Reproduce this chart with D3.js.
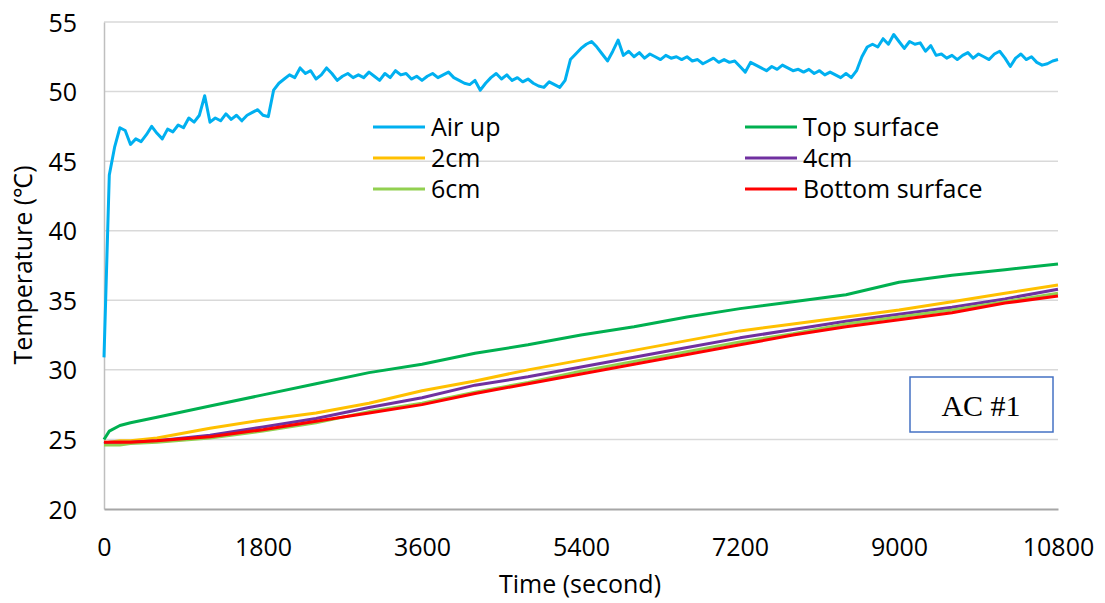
<!DOCTYPE html>
<html>
<head>
<meta charset="utf-8">
<script src="https://cdn.jsdelivr.net/npm/d3@7"></script>
<style>
  html, body { margin: 0; padding: 0; background: #fff; }
  svg { display: block; }
  text { font-family: "Open Sans", "Liberation Sans", sans-serif; fill: #000; }
  text.run-label { font-family: "Liberation Serif", "Times New Roman", serif; }
</style>
</head>
<body>
<svg id="chart" width="1105" height="603"></svg>
<script>
// Air temperature above the slab, logged every 60 s (°C)
const airStep = 60;
const airUp = [
  30.9, 44.0, 46.0, 47.4, 47.2, 46.2, 46.6, 46.4, 46.9, 47.5,
  47.0, 46.6, 47.3, 47.1, 47.6, 47.4, 48.1, 47.8, 48.3, 49.7,
  47.8, 48.1, 47.9, 48.4, 48.0, 48.3, 47.9, 48.3, 48.5, 48.7,
  48.3, 48.2, 50.1, 50.6, 50.9, 51.2, 51.0, 51.7, 51.3, 51.5,
  50.9, 51.2, 51.7, 51.3, 50.8, 51.1, 51.3, 51.0, 51.2, 51.0,
  51.4, 51.1, 50.8, 51.3, 51.0, 51.5, 51.2, 51.3, 50.9, 51.1,
  50.8, 51.1, 51.3, 51.0, 51.2, 51.4, 51.0, 50.8, 50.6, 50.5,
  50.8, 50.1, 50.6, 51.0, 51.3, 50.9, 51.2, 50.8, 51.0, 50.7,
  50.9, 50.6, 50.4, 50.3, 50.7, 50.5, 50.3, 50.8, 52.3, 52.7,
  53.1, 53.4, 53.6, 53.2, 52.7, 52.2, 52.9, 53.7, 52.6, 52.9,
  52.5, 52.8, 52.4, 52.7, 52.5, 52.3, 52.6, 52.4, 52.5, 52.3,
  52.5, 52.2, 52.3, 52.0, 52.2, 52.4, 52.1, 52.3, 52.1, 52.2,
  51.8, 51.4, 52.1, 51.9, 51.7, 51.5, 51.8, 51.6, 51.9, 51.7,
  51.5, 51.6, 51.4, 51.6, 51.3, 51.5, 51.2, 51.4, 51.2, 51.0,
  51.3, 51.0, 51.5, 52.5, 53.2, 53.4, 53.2, 53.8, 53.4, 54.1,
  53.6, 53.1, 53.6, 53.4, 53.5, 52.9, 53.3, 52.6, 52.7, 52.4,
  52.6, 52.3, 52.6, 52.8, 52.4, 52.7, 52.5, 52.3, 52.7, 52.9,
  52.4, 51.8, 52.4, 52.7, 52.3, 52.5, 52.1, 51.9, 52.0, 52.2,
  52.3
];

// Sampling times for the slab thermocouples (s)
const sensorTime = [0, 60, 180, 300, 600, 1200, 1800, 2400, 3000, 3600, 4200,
  4800, 5400, 6000, 6600, 7200, 7800, 8400, 9000, 9600, 10200, 10800];

const topSurface = [25.0, 25.6, 26.0, 26.2, 26.6, 27.4, 28.2, 29.0, 29.8, 30.4, 31.2,
  31.8, 32.5, 33.1, 33.8, 34.4, 34.9, 35.4, 36.3, 36.8, 37.2, 37.6];
const cm2 = [24.8, 24.8, 24.9, 24.9, 25.1, 25.8, 26.4, 26.9, 27.6, 28.5, 29.2,
  30.0, 30.7, 31.4, 32.1, 32.8, 33.3, 33.8, 34.3, 34.9, 35.5, 36.1];
const cm4 = [24.7, 24.8, 24.8, 24.8, 24.9, 25.3, 25.9, 26.5, 27.3, 28.0, 28.9,
  29.5, 30.2, 30.9, 31.6, 32.3, 32.9, 33.5, 34.0, 34.5, 35.1, 35.8];
const cm6 = [24.6, 24.6, 24.6, 24.7, 24.8, 25.1, 25.6, 26.2, 27.0, 27.6, 28.4,
  29.1, 29.9, 30.6, 31.3, 32.0, 32.6, 33.3, 33.8, 34.3, 34.9, 35.5];
const bottomSurface = [24.8, 24.8, 24.8, 24.8, 24.9, 25.2, 25.7, 26.3, 26.9, 27.5, 28.3,
  29.0, 29.7, 30.4, 31.1, 31.8, 32.5, 33.1, 33.6, 34.1, 34.8, 35.3];

const xTicks = [0, 1800, 3600, 5400, 7200, 9000, 10800];
const yTicks = [20, 25, 30, 35, 40, 45, 50, 55];

const seriesNames = ["Air up", "Top surface", "2cm", "4cm", "6cm", "Bottom surface"];
const seriesColors = ["#00b0f0", "#00b050", "#ffc000", "#7030a0", "#92d050", "#ff0000"];

const seriesPoints = [
  airUp.map((v, i) => [i * airStep, v]),
  sensorTime.map((t, i) => [t, topSurface[i]]),
  sensorTime.map((t, i) => [t, cm2[i]]),
  sensorTime.map((t, i) => [t, cm4[i]]),
  sensorTime.map((t, i) => [t, cm6[i]]),
  sensorTime.map((t, i) => [t, bottomSurface[i]])
];

const svg = d3.select("#chart");
const plotLeft = 104, plotRight = 1058, plotTop = 22, plotBottom = 509;

const x = d3.scaleLinear().domain([0, 10800]).range([plotLeft, plotRight]);
const y = d3.scaleLinear().domain([20, 55]).range([plotBottom, plotTop]);

// horizontal gridlines
svg.append("g")
  .selectAll("line")
  .data(yTicks.filter(d => d > 20))
  .join("line")
  .attr("x1", plotLeft).attr("x2", plotRight)
  .attr("y1", d => y(d)).attr("y2", d => y(d))
  .attr("stroke", "#d9d9d9").attr("stroke-width", 1.5);

// axes
const yAxis = svg.append("g")
  .attr("transform", `translate(${plotLeft},0)`)
  .call(d3.axisLeft(y).tickValues(yTicks).tickSize(0).tickPadding(27));
yAxis.select(".domain").attr("stroke", "#bfbfbf").attr("stroke-width", 1.5);
yAxis.selectAll("text").attr("font-size", 25).attr("dy", "0.36em");

const xAxis = svg.append("g")
  .attr("transform", `translate(0,${plotBottom})`)
  .call(d3.axisBottom(x).tickValues(xTicks).tickFormat(d3.format("d")).tickSize(0).tickPadding(29));
xAxis.select(".domain").attr("stroke", "#a6a6a6").attr("stroke-width", 2);
xAxis.selectAll("text").attr("font-size", 25);

// series lines
const line = d3.line().x(d => x(d[0])).y(d => y(d[1]));
svg.append("g")
  .selectAll("path")
  .data(seriesPoints)
  .join("path")
  .attr("d", line)
  .attr("fill", "none")
  .attr("stroke", (d, i) => seriesColors[i])
  .attr("stroke-width", 3)
  .attr("stroke-linejoin", "round");

// axis titles
svg.append("text")
  .attr("x", 580).attr("y", 593)
  .attr("text-anchor", "middle")
  .attr("font-size", 25)
  .text("Time (second)");

svg.append("text")
  .attr("transform", "translate(32,265) rotate(-90)")
  .attr("text-anchor", "middle")
  .attr("font-size", 25)
  .text("Temperature (℃)");

// legend: two columns, row-major order
const legend = svg.append("g");
const colX = [373, 745];
const rowY = [127, 158, 189];
seriesNames.forEach((name, i) => {
  const cx = colX[i % 2], cy = rowY[Math.floor(i / 2)];
  legend.append("line")
    .attr("x1", cx).attr("x2", cx + 52)
    .attr("y1", cy).attr("y2", cy)
    .attr("stroke", seriesColors[i]).attr("stroke-width", 3);
  legend.append("text")
    .attr("x", cx + 58).attr("y", cy + 9)
    .attr("font-size", 25)
    .text(name);
});

// run label box
svg.append("rect")
  .attr("x", 910).attr("y", 377).attr("width", 143).attr("height", 55)
  .attr("fill", "#fff").attr("stroke", "#4472c4").attr("stroke-width", 1.5);
svg.append("text")
  .attr("class", "run-label")
  .attr("x", 981).attr("y", 416)
  .attr("text-anchor", "middle")
  .attr("font-size", 30)
  .text("AC #1");
</script>
</body>
</html>
